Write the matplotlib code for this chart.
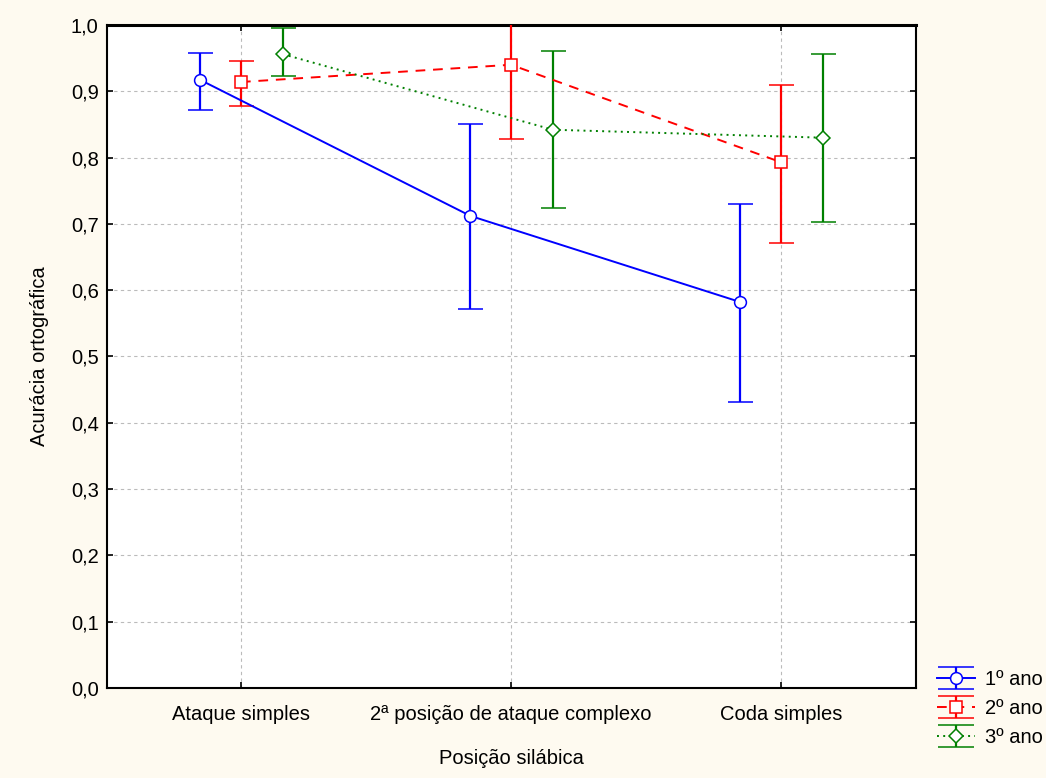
import matplotlib
matplotlib.use("Agg")
import matplotlib.pyplot as plt
import numpy as np
from matplotlib.legend_handler import HandlerErrorbar
from matplotlib.container import ErrorbarContainer

plt.rcParams['font.family'] = ['Liberation Sans', 'DejaVu Sans']

categories = ["Ataque simples", "2ª posição de ataque complexo", "Coda simples"]
series = ["1º ano", "2º ano", "3º ano"]

mean_1 = [0.917, 0.712, 0.582]
low_1 = [0.872, 0.572, 0.432]
high_1 = [0.958, 0.850, 0.730]

mean_2 = [0.914, 0.940, 0.793]
low_2 = [0.878, 0.828, 0.671]
high_2 = [0.946, 1.052, 0.910]

mean_3 = [0.956, 0.842, 0.830]
low_3 = [0.923, 0.724, 0.703]
high_3 = [0.995, 0.961, 0.956]

yticks = [0.0, 0.1, 0.2, 0.3, 0.4, 0.5, 0.6, 0.7, 0.8, 0.9, 1.0]
ytick_labels = ["0,0", "0,1", "0,2", "0,3", "0,4", "0,5", "0,6", "0,7", "0,8", "0,9", "1,0"]

FS = 14.5
bg = '#FEFAF0'
fig = plt.figure(figsize=(10.46, 7.78), dpi=100, facecolor=bg)
ax = fig.add_axes([0.1023, 0.1157, 0.7734, 0.8522])
ax.set_facecolor('white')

x = np.arange(len(categories))
specs = [
    (mean_1, low_1, high_1, -0.15, '#0000FF', '-', 'o', 8.5),
    (mean_2, low_2, high_2, 0.0, '#FF0000', (0, (5, 4)), 's', 8.0),
    (mean_3, low_3, high_3, 0.155, '#008000', (0, (1, 2.2)), 'D', 7.5),
]
handles = []
for (m, lo, hi, off, col, ls, mk, ms), name in zip(specs, series):
    m = np.array(m); lo = np.array(lo); hi = np.array(hi)
    yerr = np.vstack([m - lo, hi - m])
    cont = ax.errorbar(x + off, m, yerr=yerr, color=col, ecolor=col, elinewidth=1.6,
                       capsize=9, capthick=1.8, linestyle=ls, linewidth=1.4,
                       marker=mk, markersize=ms, markerfacecolor='white',
                       markeredgecolor=col, markeredgewidth=1.1, label=name, zorder=3)
    handles.append(cont)

ax.set_xlim(-0.496, 2.5)
ax.set_ylim(0, 1.0)
ax.set_xticks(x)
ax.set_xticklabels(categories, fontsize=FS)
ax.set_yticks(yticks)
ax.set_yticklabels(ytick_labels, fontsize=FS)
ax.grid(True, color='#BBBBBB', linestyle=(0, (3, 3)), linewidth=0.8)
ax.set_axisbelow(True)
ax.tick_params(direction='in', length=4, width=1.2, top=True, right=True, colors='black')
ax.tick_params(axis='x', pad=12)
ax.tick_params(axis='y', pad=6)
for s in ax.spines.values():
    s.set_linewidth(1.5)
    s.set_color('black')
ax.spines['top'].set_linewidth(2.2)

ax.set_xlabel("Posição silábica", fontsize=FS, labelpad=18)
ax.set_ylabel("Acurácia ortográfica", fontsize=FS, labelpad=16)


class WideCapHandler(HandlerErrorbar):
    def create_artists(self, legend, orig_handle, xdescent, ydescent, width, height,
                       fontsize, trans):
        arts = super().create_artists(legend, orig_handle, xdescent, ydescent, width,
                                      height, fontsize, trans)
        for a in arts:
            if hasattr(a, 'get_marker') and a.get_marker() == '_':
                a.set_markersize(26)
        return arts


fig.legend(handles=handles, labels=series, loc='lower left', bbox_to_anchor=(0.882, 0.022),
           frameon=False, fontsize=FS, handlelength=1.9, handletextpad=0.5,
           labelspacing=0.5, borderpad=0.2,
           handler_map={ErrorbarContainer: WideCapHandler(yerr_size=0.55)})

fig.savefig("out.png", dpi=100, facecolor=bg)
